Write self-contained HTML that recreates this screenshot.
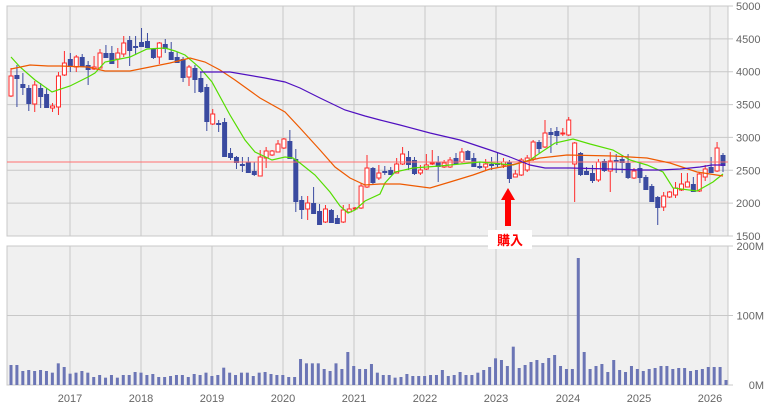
<!DOCTYPE html>
<html><head><meta charset="utf-8"><style>
html,body{margin:0;padding:0;background:#fff;width:768px;height:405px;overflow:hidden}
svg text{font-family:"Liberation Sans","Noto Sans CJK JP",sans-serif}
</style></head><body>
<svg id="s" width="768" height="405" xmlns="http://www.w3.org/2000/svg">
<rect x="7" y="6" width="721" height="230" fill="#f0f0f0" stroke="#c8c8c8"/>
<rect x="7" y="246" width="721" height="139" fill="#f0f0f0" stroke="#c8c8c8"/>
<g id="g"></g>
</svg>
<script>
var g=document.getElementById('g'),h='';
var years=[[70,'2017'],[141,'2018'],[212,'2019'],[283,'2020'],[354,'2021'],[425,'2022'],[496,'2023'],[568,'2024'],[639,'2025'],[710,'2026']];
years.forEach(function(y){h+='<line x1="'+y[0]+'" y1="6" x2="'+y[0]+'" y2="236" stroke="#c8c8c8"/><line x1="'+y[0]+'" y1="246" x2="'+y[0]+'" y2="385" stroke="#c8c8c8"/><text x="'+y[0]+'" y="402" font-size="11" fill="#666" text-anchor="middle">'+y[1]+'</text>';});
for(var i=0;i<=7;i++){var yy=6+i*230/7;h+='<line x1="7" y1="'+yy+'" x2="733" y2="'+yy+'" stroke="#c8c8c8"/><text x="736" y="'+(yy+4)+'" font-size="11" fill="#666">'+(5000-i*500)+'</text>';}
[[246,'200M'],[315.5,'100M'],[385,'0M']].forEach(function(v){h+='<line x1="7" y1="'+v[0]+'" x2="733" y2="'+v[0]+'" stroke="#c8c8c8"/><text x="764" y="'+(v[0]+4)+'" font-size="11" fill="#666" text-anchor="end">'+v[1]+'</text>';});
// candles: [bodyTop, bodyBot, wickTop, wickBot, red?]
var c=[[76,96,68,97,1],[75,78,65,107,0],[84,87,73,95,0],[88,103,85,111,0],[85,104,81,112,1],[88,96,83,108,0],[94,107,88,108,0],[106,108,103,112,1],[76,107,72,115,1],[63,75,51,76,1],[59,66,53,72,0],[57,67,55,72,1],[57,66,54,67,0],[65,69,61,85,0],[67,69,56,70,1],[53,68,49,68,1],[53,57,45,57,0],[53,63,46,64,0],[53,59,48,68,1],[43,54,36,57,1],[40,50,36,66,0],[46,47,36,55,0],[42,46,28,47,0],[41,47,33,48,0],[49,57,48,59,0],[43,57,42,64,1],[44,48,39,53,0],[52,59,42,60,0],[57,62,52,63,0],[59,77,57,82,0],[67,77,65,86,1],[68,79,65,93,0],[78,91,72,93,0],[87,121,84,131,0],[114,124,109,125,1],[123,124,120,132,0],[122,156,118,156,0],[153,157,148,160,0],[157,162,156,169,0],[164,165,157,172,0],[162,172,157,172,0],[171,174,162,176,0],[157,176,150,176,1],[151,158,147,168,1],[151,155,150,156,1],[144,152,140,152,1],[139,148,138,149,1],[141,158,130,158,0],[159,201,149,212,0],[200,209,196,219,0],[203,209,196,220,1],[203,213,187,213,0],[211,224,204,224,0],[209,222,205,223,1],[210,222,209,222,0],[218,223,215,223,0],[210,222,205,223,1],[209,212,204,213,1],[208,209,207,210,1],[186,208,183,209,1],[168,187,155,188,1],[168,182,167,185,0],[173,178,165,180,1],
[171,172,166,175,0],[170,174,167,175,0],[164,173,158,173,1],[154,164,147,165,1],[157,164,151,170,0],[160,173,157,175,0],[170,173,165,175,1],[165,169,154,170,1],[163,164,150,165,1],[162,166,156,182,0],[163,167,160,168,1],[160,167,157,168,1],[158,163,153,165,0],[152,162,148,163,1],[151,159,150,160,0],[158,166,153,167,0],[166,167,162,169,0],[164,167,159,170,1],[164,165,157,170,0],[163,164,152,167,0],[162,165,158,168,1],[162,178,160,183,0],[174,177,170,177,1],[160,175,158,176,1],[158,170,155,172,1],[142,159,140,161,1],[142,148,140,153,0],[133,147,120,148,1],[132,134,128,153,0],[131,135,127,145,0],[133,134,128,136,1],[120,135,117,136,1],[143,164,142,202,1],[153,174,152,176,0],[171,174,167,175,0],[173,180,165,183,0],[162,180,159,182,1],[161,170,159,172,0],[161,171,152,192,1],[160,161,154,173,0],[159,162,155,173,0],[163,177,154,179,0],[171,178,168,179,1],[168,177,163,183,0],[177,189,175,190,0],[186,201,184,202,0],[197,207,196,225,0],[196,207,192,211,1],[192,197,191,198,1],[188,195,182,198,1],[184,190,173,191,1],[182,187,173,187,1],[184,191,177,192,0],[174,191,173,192,1],[169,177,165,181,1],[167,172,157,173,0],[148,171,142,172,1],[155,165,153,172,0]];
var n=c.length,dx=(723-11)/(n-1);
c.forEach(function(k,i){var x=11+i*dx,col=k[4]?'#ff2a2a':'#3a4aa0';
h+='<line x1="'+x+'" y1="'+k[2]+'" x2="'+x+'" y2="'+k[3]+'" stroke="'+col+'" stroke-width="1"/>';
var bh=Math.max(1,k[1]-k[0]);
if(k[4])h+='<rect x="'+(x-2)+'" y="'+k[0]+'" width="4" height="'+bh+'" fill="#fff" stroke="'+col+'"/>';
else h+='<rect x="'+(x-2.5)+'" y="'+k[0]+'" width="5" height="'+(bh+1)+'" fill="'+col+'"/>';});
h+='<line x1="7" y1="162" x2="728" y2="162" stroke="#ff7070"/>';
function pl(p,col){h+='<polyline fill="none" stroke="'+col+'" stroke-width="1.2" points="'+p+'"/>';}
pl('11,57 20,67 35,80 52,92 70,86 88,77 95,73 105,62 130,57 147,49 165,48 175,51 185,55 200,68 212,82 230,115 245,140 255,152 272,160 285,157 293,158 300,163 315,175 330,192 340,206 348,213 355,210 365,201 380,194 385,183 395,172 413,168 440,166 480,162 513,165 530,160 540,153 555,143 573,139 590,144 613,150 630,160 647,165 663,172 673,188 697,191 713,182 723,174','#55dd00');
pl('11,69 30,65 48,66 60,66 88,67 105,71 130,71 150,67 170,63 190,58 205,62 220,70 235,80 260,98 285,112 300,128 320,150 335,167 350,178 365,185 380,184 400,184 430,188 450,182 473,175 490,169 507,166 540,158 567,155 613,156 647,158 670,163 697,172 723,176','#ee5a00');
pl('200,72 230,72 265,78 285,82 300,88 320,98 345,110 365,116 380,120 400,125 430,133 460,140 490,150 510,157 530,165 545,168 570,168 610,169 640,170 660,170 680,169 700,167 712,165 725,165','#5010c0');
// arrow
h+='<polygon points="508,188 515,200 511,200 511,226 505,226 505,200 501,200" fill="#ff0000"/>';
h+='<rect x="488" y="230" width="44" height="19" fill="#fff"/><text x="510" y="245" font-size="13" font-weight="bold" fill="#ff0000" text-anchor="middle">購入</text>';
var v=[375,375,393,390,393,390,393,398,370,381,401,398,393,398,411,405,413,405,413,405,405,396,398,405,402,411,411,408,405,405,411,402,405,398,408,405,383,398,405,398,398,408,398,396,402,405,405,411,411,357,370,370,370,387,393,370,387,336,378,387,387,372,398,405,405,413,411,402,408,408,408,405,405,390,408,405,396,405,405,398,390,381,355,360,378,320,384,375,366,360,369,354,345,378,387,387,54,336,387,378,372,396,360,390,396,378,387,393,387,384,378,378,387,384,384,393,390,387,381,381,381,420];
var vdx=(726-11)/(v.length-1);
v.forEach(function(t,i){var x=11+i*vdx,y=240+t/3;h+='<rect x="'+(x-1.5)+'" y="'+y+'" width="3" height="'+(385-y)+'" fill="#6b75b5"/>';});
g.innerHTML=h;
</script>
</body></html>
